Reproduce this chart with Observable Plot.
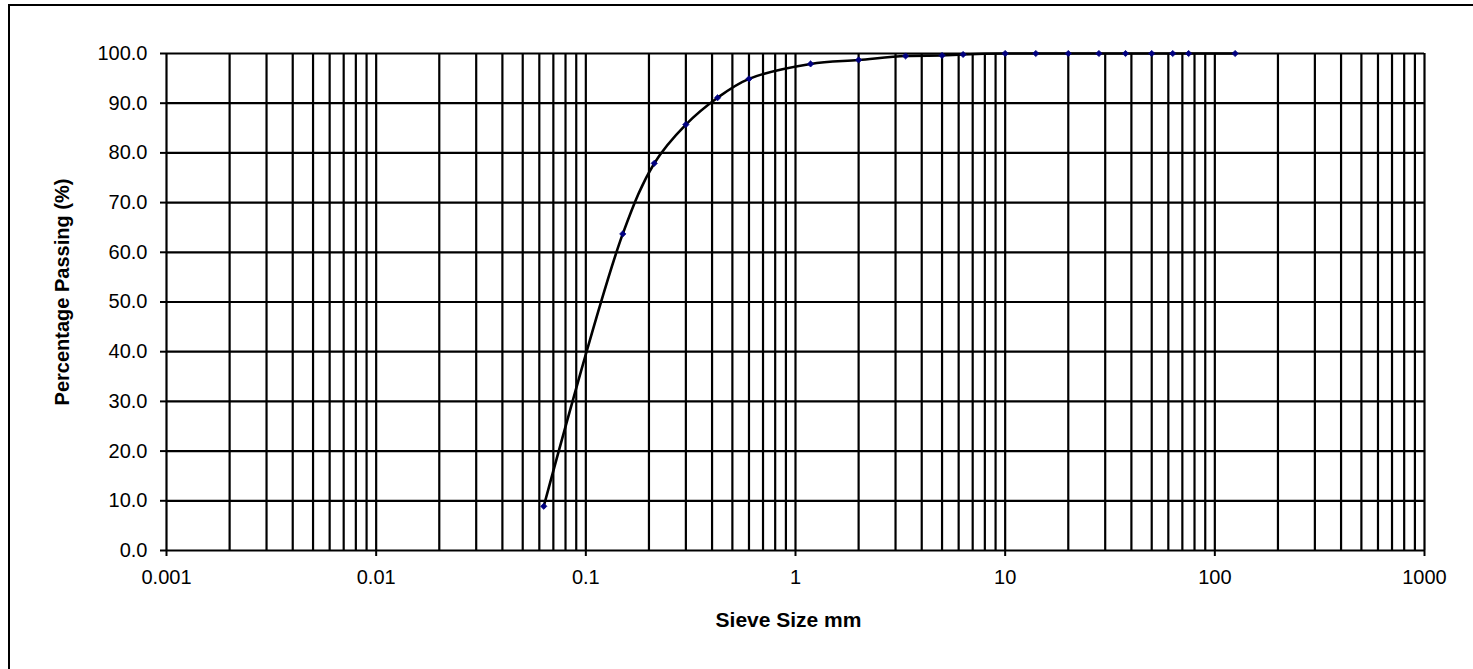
<!DOCTYPE html>
<html>
<head>
<meta charset="utf-8">
<script src="https://cdn.jsdelivr.net/npm/d3@7"></script>
<script src="https://cdn.jsdelivr.net/npm/@observablehq/plot@0.6"></script>
<style>
  html, body { margin: 0; padding: 0; background: #fff; overflow: hidden; }
  #wrap { position: relative; width: 1473px; height: 669px; overflow: hidden; }
  #frame { position: absolute; left: 8px; top: 4px; width: 1500px; height: 700px; border: 2px solid #000; box-sizing: border-box; pointer-events: none; }
  #chart { position: absolute; left: 0; top: 0; }
</style>
</head>
<body>
<div id="wrap"><div id="chart"></div><div id="frame"></div></div>
<script>
// Data
const sieveSizes = [0.063, 0.15, 0.212, 0.3, 0.425, 0.6, 1.18, 2, 3.35, 5, 6.3, 10, 14, 20, 28, 37.5, 50, 63, 75, 125];
const percentPassing = [8.9, 63.7, 77.9, 85.7, 91.1, 94.9, 97.9, 98.7, 99.5, 99.6, 99.8, 100, 100, 100, 100, 100, 100, 100, 100, 100];

const xTicks = [0.001, 0.01, 0.1, 1, 10, 100, 1000];
const xTickLabels = ["0.001", "0.01", "0.1", "1", "10", "100", "1000"];
const yTicks = [0, 10, 20, 30, 40, 50, 60, 70, 80, 90, 100];
const gridMultipliers = [1, 2, 3, 4, 5, 6, 7, 8, 9];

const xLabel = "Sieve Size mm";
const yLabel = "Percentage Passing (%)";

const data = sieveSizes.map((s, i) => ({size: s, pass: percentPassing[i]}));
const gridX = xTicks.slice(0, -1).flatMap(d => gridMultipliers.map(m => +(m * d).toPrecision(6))).concat([1000]);
const xLabelMap = new Map(xTicks.map((t, i) => [t, xTickLabels[i]]));

const chart = Plot.plot({
  width: 1473,
  height: 669,
  marginLeft: 166,
  marginRight: 49,
  marginTop: 53,
  marginBottom: 119,
  x: {type: "log", domain: [0.001, 1000]},
  y: {domain: [0, 100]},
  style: {fontFamily: "'Liberation Sans', Arial, sans-serif", fontSize: "20px", color: "#000", background: "transparent"},
  marks: [
    Plot.ruleX(gridX, {stroke: "#000", strokeWidth: 2.2, strokeOpacity: 1}),
    Plot.ruleY(yTicks, {stroke: "#000", strokeWidth: 2.2, strokeOpacity: 1}),
    Plot.axisX({ticks: xTicks, tickFormat: d => xLabelMap.get(d) ?? String(d), tickSize: 6, tickPadding: 13, label: null, strokeWidth: 2, fontSize: 20}),
    Plot.axisY({ticks: yTicks, tickFormat: d3.format(".1f"), tickSize: 6, tickPadding: 13, label: null, strokeWidth: 2, fontSize: 20}),
    Plot.line(data, {x: "size", y: "pass", curve: "catmull-rom", stroke: "#000", strokeWidth: 2.6}),
    Plot.dot(data, {x: "size", y: "pass", symbol: "diamond2", r: 2.8, fill: "#000080", stroke: "#000080", strokeWidth: 0.8}),
    Plot.text([xLabel], {text: d => d, frameAnchor: "bottom", dx: -7, dy: 70, lineAnchor: "middle", textAnchor: "middle", fontWeight: "bold", fontSize: 21}),
    Plot.text([yLabel], {text: d => d, frameAnchor: "left", rotate: -90, dx: -104, dy: -10, lineAnchor: "middle", textAnchor: "middle", fontWeight: "bold", fontSize: 20})
  ]
});
document.getElementById("chart").appendChild(chart);
</script>
</body>
</html>
